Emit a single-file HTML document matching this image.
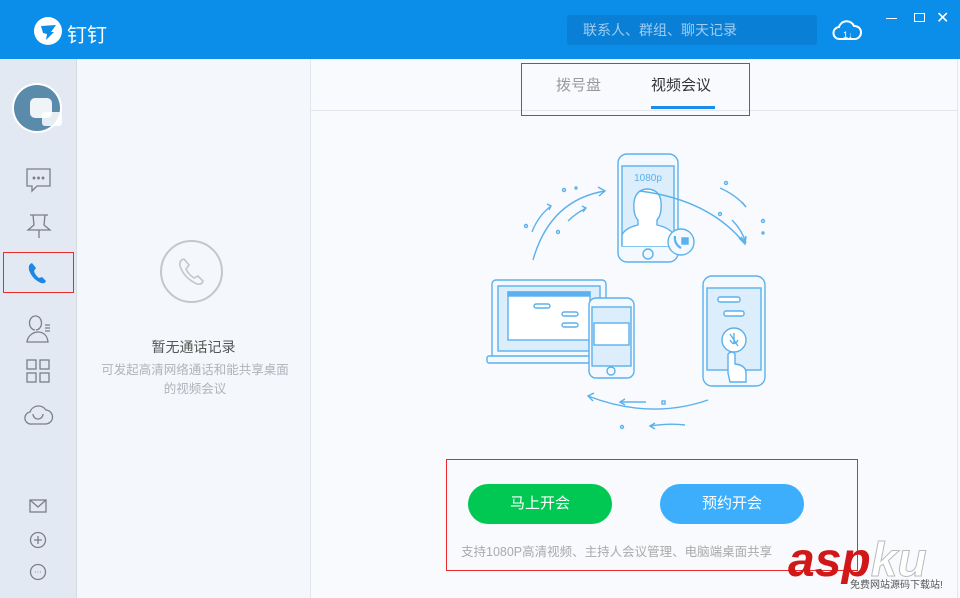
<!DOCTYPE html>
<html><head><meta charset="utf-8"><style>
body{margin:0;width:960px;height:598px;overflow:hidden;font-family:"Liberation Sans","Noto Sans CJK SC",sans-serif;background:#f8fafd;position:relative}
.a{position:absolute}
</style></head><body>
<div class="a" style="left:0;top:0;width:960px;height:59px;background:#0a8ee9"></div>
<div class="a" style="left:34px;top:17px;width:28px;height:28px;border-radius:50%;background:#fff"></div>
<svg class="a" style="left:34px;top:17px" width="28" height="28"><path d="M7 9 L22 8 L17 15 L20 15 L12 23 L13 17 L9 16 Z" fill="#0a8ee9"/></svg>
<div class="a" style="left:67px;top:19px;color:#fff;font-size:20px">钉钉</div>
<div class="a" style="left:567px;top:15px;width:250px;height:30px;background:#0a7fd6;border-radius:3px;color:#9fcdf3;font-size:14px;line-height:30px;padding-left:16px;box-sizing:border-box">联系人、群组、聊天记录</div>
<svg class="a" style="left:832px;top:16px" width="30" height="28"><path d="M8 23 A6 6 0 0 1 7 11 A8 8 0 0 1 22 10 A6 6 0 0 1 23 23 Z" fill="none" stroke="#fff" stroke-width="2"/><text x="11" y="22" font-size="9" fill="#fff" font-family="Liberation Sans">1↓</text></svg>
<div class="a" style="left:886px;top:18px;width:11px;height:1px;background:#fff"></div>
<div class="a" style="left:914px;top:13px;width:9px;height:7px;border:1.5px solid #fff"></div>
<div class="a" style="left:936px;top:8px;color:#fff;font-size:16px">✕</div>
<!-- sidebar -->
<div class="a" style="left:0;top:59px;width:76px;height:539px;background:#e3e9f2;border-right:1px solid #d5dbe4"></div>
<div class="a" style="left:12px;top:83px;width:50px;height:50px;border-radius:50%;background:#fff"></div>
<div class="a" style="left:14px;top:85px;width:46px;height:46px;border-radius:50%;background:#5a8bab"></div>
<div class="a" style="left:30px;top:98px;width:22px;height:20px;background:#fff;border-radius:5px;opacity:.9"></div>
<div class="a" style="left:42px;top:112px;width:20px;height:14px;background:#fff;border-radius:3px;opacity:.85"></div>
<svg class="a" style="left:0;top:160px" width="76" height="430" fill="none" stroke="#7a7f88" stroke-width="1.3">
<path d="M27 9 H50 V26 H37 L32 31 V26 H27 Z"/><circle cx="34" cy="18" r=".8" fill="#7a7f88"/><circle cx="38.5" cy="18" r=".8" fill="#7a7f88"/><circle cx="43" cy="18" r=".8" fill="#7a7f88"/>
<path d="M30 55 H48 M33 55 L34 65 L28 70 H50 L44 65 L45 55 M39 70 V78"/>
<path d="M35 170 A6 7 0 1 1 36 170 M27 182 C28 174 35 172 38 172 C42 172 47 174 48 182 Z M45 165 H50 M45 168 H50 M45 171 H50"/>
<rect x="27" y="200" width="9" height="9"/><rect x="40" y="200" width="9" height="9"/><rect x="27" y="213" width="9" height="9"/><rect x="40" y="213" width="9" height="9"/>
<path d="M32 264 A6 6 0 0 1 30 252 A9 9 0 0 1 46 250 A6 6 0 0 1 45 264 Z M33 254 A5 5 0 0 0 43 254"/>
<rect x="30" y="340" width="16" height="12"/><path d="M30 340 L38 347 L46 340"/>
<circle cx="38" cy="380" r="7.5"/><path d="M34 380 H42 M38 376 V384"/>
<circle cx="38" cy="412" r="7.5"/><path d="M35 412 H35.6 M37.7 412 H38.3 M40.4 412 H41"/>
</svg>
<svg class="a" style="left:26px;top:260px" width="24" height="26"><path d="M6 3 Q2 4 3 10 Q6 19 15 23 Q19 24 20 21 L16 17 L13 18 Q9 15 8 11 L10 8 Z" fill="#1b88e6"/></svg>
<div class="a" style="left:3px;top:252px;width:71px;height:41px;border:1px solid #e82a2a;box-sizing:border-box"></div>
<!-- middle -->
<div class="a" style="left:77px;top:59px;width:233px;height:539px;background:#f4f7fc;border-right:1px solid #e3e6ec"></div>
<div class="a" style="left:160px;top:240px;width:63px;height:63px;border:2px solid #c4c6ca;border-radius:50%;box-sizing:border-box"></div>
<svg class="a" style="left:176px;top:256px" width="34" height="34"><path d="M8 3 Q3 4 4 10 Q8 22 21 28 Q26 29 27 25 L22 20 L18 22 Q12 18 10 13 L13 9 Z" fill="none" stroke="#c4c6ca" stroke-width="1.6"/></svg>
<div class="a" style="left:77px;top:337px;width:233px;text-align:center;font-size:14px;color:#555">暂无通话记录</div>
<div class="a" style="left:100px;top:361px;width:190px;text-align:center;font-size:12.5px;color:#b0b3b8;line-height:19px">可发起高清网络通话和能共享桌面<br>的视频会议</div>
<!-- right -->
<div class="a" style="left:311px;top:110px;width:647px;height:1px;background:#e3e6ec"></div>
<div class="a" style="left:957px;top:59px;width:1px;height:539px;background:#e3e6ec"></div>
<div class="a" style="left:556px;top:74px;font-size:15px;color:#999">拨号盘</div>
<div class="a" style="left:651px;top:74px;font-size:15px;color:#333">视频会议</div>
<div class="a" style="left:651px;top:106px;width:64px;height:3px;background:#1a8ee8"></div>
<div class="a" style="left:521px;top:63px;width:229px;height:53px;border:1px solid #e82a2a;box-sizing:border-box"></div>
<svg class="a" style="left:480px;top:140px" width="300" height="300" fill="none" stroke="#5ab1ee" stroke-width="1.4">
<rect x="138" y="14" width="60" height="108" rx="9" fill="#f3f9fe"/><rect x="142" y="26" width="52" height="80" fill="#dcedfb"/>
<text x="168" y="41" font-size="10" fill="#5ab1ee" stroke="none" text-anchor="middle" font-family="Liberation Sans">1080p</text>
<path d="M142 106 V95 Q145 88 158 85 V80 Q153 75 154 62 Q156 49 168 49 Q180 50 181 62 Q182 75 177 80 V85 Q190 88 194 95 V106" fill="#fff"/>
<circle cx="168" cy="114" r="5"/><circle cx="201" cy="102" r="13" fill="#f3f9fe"/>
<path d="M195 96 Q194 104 201 108" stroke-width="2.2"/><rect x="202" y="98" width="6" height="6" fill="#5ab1ee"/>
<rect x="223" y="136" width="62" height="110" rx="9" fill="#f3f9fe"/><rect x="227" y="148" width="54" height="82" fill="#dcedfb"/>
<rect x="238" y="157" width="22" height="5" rx="2" fill="#fff"/><rect x="244" y="171" width="20" height="5" rx="2" fill="#fff"/><circle cx="254" cy="200" r="12" fill="#fff"/>
<path d="M254 193 V203 M250 200 Q254 207 258 200 M250 194 L258 206"/>
<path d="M248 233 V214 Q252 210 255 214 V224 Q265 225 266 232 V242 H250 Z" fill="#fff"/>
<rect x="12" y="140" width="114" height="78" rx="4" fill="#f3f9fe"/><rect x="18" y="146" width="102" height="65" fill="#dcedfb"/><rect x="28" y="152" width="82" height="48" fill="#fff"/><rect x="28" y="152" width="82" height="4" fill="#5ab1ee"/>
<rect x="54" y="164" width="16" height="4" rx="2"/><rect x="82" y="172" width="16" height="4" rx="2"/><rect x="82" y="183" width="16" height="4" rx="2"/>
<rect x="7" y="216" width="120" height="7" rx="2" fill="#f3f9fe"/>
<rect x="109" y="158" width="45" height="80" rx="7" fill="#f3f9fe"/><rect x="112" y="167" width="39" height="59" fill="#dcedfb"/><rect x="114" y="183" width="35" height="22" fill="#fff"/><circle cx="131" cy="231" r="4"/>
<path d="M53 120 Q70 60 125 51 M52 92 Q58 76 71 66 M88 81 Q95 74 106 68 M160 51 Q230 60 265 104 M240 48 Q256 55 266 67 M252 80 Q262 90 266 103 M228 260 Q170 280 108 256 M166 262 H140 M205 285 Q190 283 170 286"/>
<path d="M118 47 L125 51 L119 56 M259 98 L265 104 L266 96 M114 253 L108 256 L113 261 M262 62 L266 67 M261 97 L266 103 M67 64 L71 66 L69 70 M102 66 L106 68 L103 72 M145 259 L140 262 L145 265 M175 283 L170 286 L175 289"/>
<circle cx="84" cy="50" r="1.5"/><circle cx="96" cy="48" r="1"/><circle cx="78" cy="92" r="1.5"/><circle cx="46" cy="86" r="1.5"/><circle cx="246" cy="43" r="1.5"/><circle cx="283" cy="81" r="1.5"/><circle cx="283" cy="93" r="1"/><circle cx="240" cy="74" r="1.5"/><rect x="182" y="261" width="3" height="3"/><circle cx="142" cy="287" r="1.5"/>
</svg>
<!-- buttons -->
<div class="a" style="left:446px;top:459px;width:412px;height:112px;border:1px solid #e82a2a;box-sizing:border-box"></div>
<div class="a" style="left:468px;top:484px;width:144px;height:40px;border-radius:20px;background:#00c853;color:#fff;font-size:15px;line-height:40px;text-align:center">马上开会</div>
<div class="a" style="left:660px;top:484px;width:144px;height:40px;border-radius:20px;background:#3daefc;color:#fff;font-size:15px;line-height:40px;text-align:center">预约开会</div>
<div class="a" style="left:461px;top:541px;font-size:12.5px;color:#aaa;white-space:nowrap">支持1080P高清视频、主持人会议管理、电脑端桌面共享</div>
<div class="a" style="left:788px;top:538px;height:46px;overflow:hidden;font-size:48px;font-weight:bold;font-style:italic;color:#d01818;line-height:46px">asp<span style="color:#fff;-webkit-text-stroke:1px #bbb">ku</span></div>
<div class="a" style="left:850px;top:580px;font-size:10px;line-height:12px;color:#555">免费网站源码下载站!</div>
</body></html>
